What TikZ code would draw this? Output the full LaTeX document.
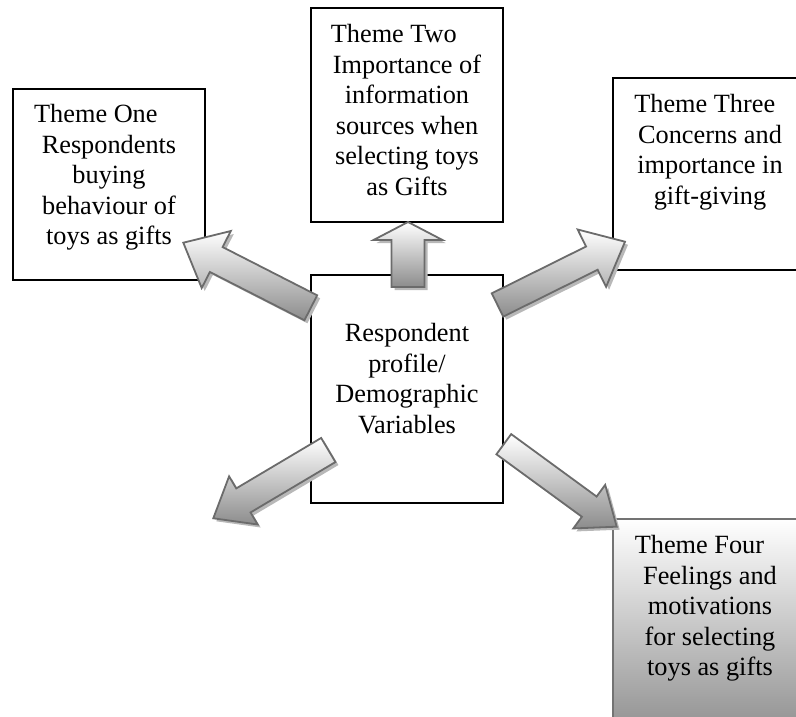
\documentclass[tikz,border=0pt]{standalone}
\usepackage{fontspec}
\setmainfont{Liberation Serif}
\usetikzlibrary{calc}

\tikzset{
  themebox/.style={draw, line width=1.4pt, inner sep=0pt},
  themetext/.style={align=center, inner sep=0pt, font=\fontsize{26.3}{30.5}\selectfont},
  arrowbody/.style={draw=black!58, line width=1.8pt, line join=miter, top color=white, bottom color=black!45},
  arrowshade/.style={fill=black!28},
}

% outline of a block arrow: tail #1, tip #2, shaft half width #3, head half width #4
\newcommand{\fatarrowpath}[4]{%
  ($(#1)!#3!90:(#2)$) -- ($(hb)!#3!90:(#2)$) -- ($(hb)!#4!90:(#2)$) -- (#2)
  -- ($(hb)!#4!-90:(#2)$) -- ($(hb)!#3!-90:(#2)$) -- ($(#1)!#3!-90:(#2)$) -- cycle}

% shaded block arrow with its shadow, #5 = head length
\newcommand{\fatarrow}[5]{%
  \coordinate (hb) at ($(#2)!#5!(#1)$);
  \fill[arrowshade, transform canvas={xshift=3pt, yshift=-3pt}] \fatarrowpath{#1}{#2}{#3}{#4};
  \draw[arrowbody] \fatarrowpath{#1}{#2}{#3}{#4};
}

\begin{document}
\begin{tikzpicture}[x=1pt, y=-1pt]
\clip (0,0) rectangle (796,717);

% boxes
\node[themebox, minimum width=192, minimum height=191] (one) at (109,184.5) {};
\node[themebox, minimum width=192, minimum height=214] (two) at (407,115) {};
\node[themebox, minimum width=194, minimum height=192] (three) at (710,174) {};
\node[themebox, draw=black!55, top color=white, bottom color=black!42,
      minimum width=194, minimum height=206] (four) at (710,622) {};
\node[themebox, minimum width=192, minimum height=228] (profile) at (407,389) {};

% texts
\node[themetext, anchor=north] (onetxt) at ([yshift=-16pt]one.north)
  {Theme One\hspace*{1em}\\Respondents\\buying\\behaviour of\\toys as gifts};
\node[themetext, anchor=north] (twotxt) at ([yshift=-17pt]two.north)
  {Theme Two\hspace*{1em}\\Importance of\\information\\sources when\\selecting toys\\as Gifts};
\node[themetext, anchor=north] (threetxt) at ([yshift=-17pt]three.north)
  {Theme Three\hspace*{0.4em}\\Concerns and\\importance in\\gift-giving};
\node[themetext, anchor=north] (fourtxt) at ([yshift=-17pt]four.north)
  {Theme Four\hspace*{0.8em}\\Feelings and\\motivations\\for selecting\\toys as gifts};
\node[themetext, anchor=north] (profiletxt) at ([yshift=-49pt]profile.north)
  {Respondent\\profile/\\Demographic\\Variables};

% arrow ends
\coordinate (a1s) at (310.8,307.8);
\coordinate (a1e) at (183.3,242.7);
\coordinate (a2s) at (408,287);
\coordinate (a2e) at (408,222);
\coordinate (a3s) at (497.5,305);
\coordinate (a3e) at (625,241.7);
\coordinate (a4s) at (328.3,450);
\coordinate (a4e) at (213.3,518.3);
\coordinate (a5s) at (503.8,444.2);
\coordinate (a5e) at (616.7,526.7);

% arrows
\fatarrow{a1s}{a1e}{14pt}{32pt}{37pt}
\fatarrow{a2s}{a2e}{16.5pt}{34.5pt}{18pt}
\fatarrow{a3s}{a3e}{13pt}{32pt}{37pt}
\fatarrow{a4s}{a4e}{14pt}{28pt}{35pt}
\fatarrow{a5s}{a5e}{12.5pt}{27pt}{34pt}
\end{tikzpicture}
\end{document}
